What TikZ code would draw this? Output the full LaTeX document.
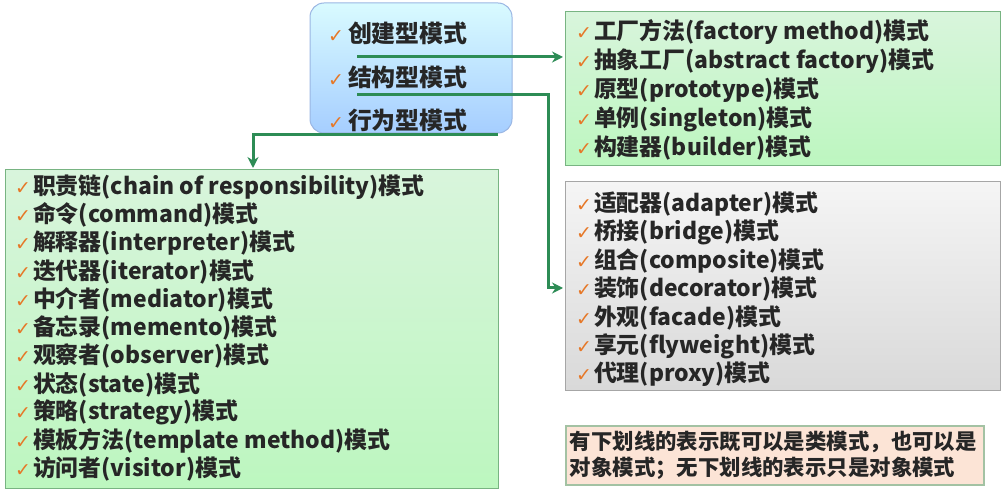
\documentclass[tikz,border=0pt]{standalone}
\usepackage{fontspec}
\setmainfont{Noto Sans CJK SC}
\newfontfamily\chk{DejaVu Sans}
\usetikzlibrary{arrows.meta}
\definecolor{gline}{RGB}{45,140,85}
\definecolor{chkc}{RGB}{230,120,40}
\definecolor{gfill}{RGB}{200,240,205}
\definecolor{gdraw}{RGB}{120,180,130}
\definecolor{peach}{RGB}{252,228,214}
\newcommand{\ck}{{\chk\color{chkc}\fontsize{19}{19}\selectfont ✓}}
\tikzset{
 item/.style={anchor=west,inner sep=0pt,font=\fontsize{23}{24}\selectfont\bfseries,text=black!85},
 conn/.style={gline,line width=3bp},
}
\begin{document}
\begin{tikzpicture}[x=1bp,y=-1bp]
\useasboundingbox (0,0) rectangle (1007,496);
\fill[white] (0,0) rectangle (1007,496);
% top box
\shade[top color=blue!12!cyan!15,bottom color=cyan!45!blue!35,rounded corners=14bp,draw=cyan!50!blue!40,line width=1bp] (310,3) rectangle (512,133);
\node[item,font=\fontsize{24}{25}\selectfont\bfseries] (c1) at (328,33) {\ck\hspace{4bp}创建型模式};
\node[item,font=\fontsize{24}{25}\selectfont\bfseries] (c2) at (328,77) {\ck\hspace{4bp}结构型模式};
\node[item,font=\fontsize{24}{25}\selectfont\bfseries] (c3) at (328,120) {\ck\hspace{4bp}行为型模式};
% creational
\shade[top color=gfill!70!white,bottom color=gfill!80!green!70,draw=gdraw,line width=1bp] (565,12) rectangle (1000,166);
\foreach \t [count=\i] in {工厂方法(factory method)模式,抽象工厂(abstract factory)模式,原型(prototype)模式,单例(singleton)模式,构建器(builder)模式}
 \node[item] (a\i) at (576,{32+(\i-1)*29}) {\ck\hspace{2bp}\t};
% structural
\shade[top color=gray!8,bottom color=gray!30,draw=gray!70,line width=1bp] (565,182) rectangle (1000,390);
\foreach \t [count=\i] in {适配器(adapter)模式,桥接(bridge)模式,组合(composite)模式,装饰(decorator)模式,外观(facade)模式,享元(flyweight)模式,代理(proxy)模式}
 \node[item] (s\i) at (576,{204+(\i-1)*28.4}) {\ck\hspace{2bp}\t};
% behavioral
\shade[top color=gfill!70!white,bottom color=gfill!80!green!70,draw=gdraw,line width=1bp] (5,170) rectangle (498,488);
\foreach \t [count=\i] in {职责链(chain of responsibility)模式,命令(command)模式,解释器(interpreter)模式,迭代器(iterator)模式,中介者(mediator)模式,备忘录(memento)模式,观察者(observer)模式,状态(state)模式,策略(strategy)模式,模板方法(template method)模式,访问者(visitor)模式}
 \node[item] (b\i) at (15,{187+(\i-1)*28.2}) {\ck\hspace{2bp}\t};
% note
\node[draw=gray!80!green!60,fill=peach,line width=1.5bp,anchor=north west,text width=410bp,minimum height=59bp,inner sep=4bp,align=left,font=\fontsize{21.5}{26}\selectfont\bfseries,text=black!85] (note) at (565,425) {有下划线的表示既可以是类模式，也可以是\\对象模式；无下划线的表示只是对象模式};
% connectors
\coordinate (p1) at (357,57);
\coordinate (t1) at (563,57);
\coordinate (p2) at (357,95);
\coordinate (k2) at (548,95);
\coordinate (t2) at (563,288);
\coordinate (p3) at (498,135);
\coordinate (t3) at (253,168);
\draw[conn,-{Stealth[length=11bp,width=11bp]}] (p1) -- (t1);
\draw[conn,-{Stealth[length=11bp,width=11bp]}] (p2) -- (k2) |- (t2);
\draw[conn,-{Stealth[length=11bp,width=11bp]}] (p3) -| (t3);
\end{tikzpicture}
\end{document}
